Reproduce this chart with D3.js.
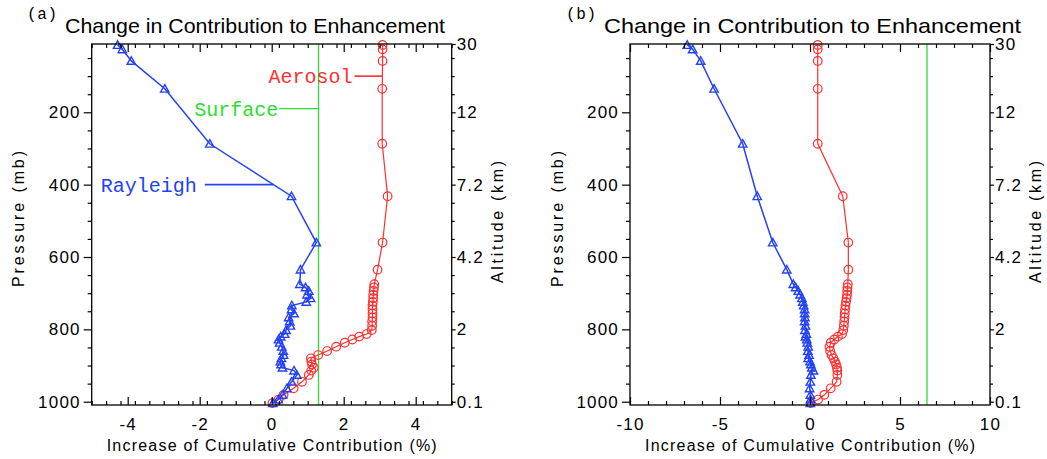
<!DOCTYPE html>
<html><head><meta charset="utf-8">
<script src="https://cdn.jsdelivr.net/npm/d3@7"></script>
<style>
body{margin:0;background:#fff;}
svg{display:block;}
text{font-family:"Liberation Sans",Arial,Helvetica,sans-serif;fill:#000;}
</style>
</head><body>
<svg id="chart" width="1047" height="459"></svg>
<script>
// ---- data ----
const pressureLevels = [14, 26, 58, 135, 287, 432, 560, 635, 675, 684, 694, 704, 714, 724, 734, 745, 756, 767, 778, 790, 802,
  813, 820, 828, 837, 848, 860, 871, 880, 889, 897, 906, 914, 926, 945, 963, 981, 994, 1004];
const rayleighA = [-4.28, -4.15, -3.90, -2.97, -1.72, 0.55, 1.24, 0.80, 0.78, 0.94, 1.03, 0.98, 1.08, 0.96, 0.56, 0.55, 0.62, 0.47, 0.50, 0.52, 0.40,
  0.36, 0.25, 0.19, 0.22, 0.28, 0.32, 0.33, 0.27, 0.24, 0.26, 0.30, 0.62, 0.70, 0.55, 0.42, 0.30, 0.18, 0.03];
const aerosolA = [3.08, 3.08, 3.08, 3.07, 3.07, 3.22, 3.08, 2.94, 2.85, 2.84, 2.83, 2.82, 2.82, 2.81, 2.80, 2.80, 2.80, 2.80, 2.79, 2.79, 2.78,
  2.64, 2.43, 2.24, 2.03, 1.79, 1.54, 1.29, 1.09, 1.10, 1.12, 1.17, 1.10, 1.03, 0.84, 0.61, 0.33, 0.19, 0.02];
const surfaceA = 1.3;
const rayleighB = [-6.82, -6.52, -6.07, -5.33, -3.74, -2.93, -2.07, -1.29, -0.93, -0.80, -0.65, -0.55, -0.45, -0.40, -0.35, -0.30, -0.30, -0.28, -0.30, -0.25, -0.28,
  -0.20, -0.25, -0.18, -0.15, -0.10, -0.12, -0.05, -0.10, 0.00, 0.05, 0.10, 0.19, 0.05, 0.02, -0.02, 0.02, 0.03, 0.02];
const aerosolB = [0.43, 0.43, 0.43, 0.43, 0.43, 1.82, 2.13, 2.13, 2.10, 2.08, 2.07, 2.06, 2.03, 2.00, 1.97, 1.95, 1.93, 1.92, 1.90, 1.88, 1.85,
  1.78, 1.55, 1.35, 1.15, 1.08, 1.12, 1.20, 1.30, 1.39, 1.45, 1.50, 1.52, 1.52, 1.48, 1.15, 0.80, 0.45, 0.04];
const surfaceB = 6.5;

const xTicksA = [-4, -2, 0, 2, 4];
const xTicksB = [-10, -5, 0, 5, 10];
const pressureTicks = [200, 400, 600, 800, 1000];
const altitudeLabels = ["30", "12", "7.2", "4.2", "2", "0.1"];
const altitudePressures = [11.2, 200, 400, 600, 800, 1000];
const seriesNames = ["Aerosol", "Surface", "Rayleigh"];
const title = "Change in Contribution to Enhancement";

// ---- drawing ----
const svg = d3.select("#chart");
const BLUE = "#2442f5", RED = "#ff2f2f", GREEN = "#2fdc2f";
const SANS = '"Liberation Sans",Arial,sans-serif';

function triPath(s) {
  return `M0,${-s}L${s},${s * 0.8}L${-s},${s * 0.8}Z`;
}

function interpAt(p, vals) {
  for (let i = 0; i < pressureLevels.length - 1; i++) {
    const p0 = pressureLevels[i], p1 = pressureLevels[i + 1];
    if (p >= p0 && p <= p1) return vals[i] + (p - p0) / (p1 - p0) * (vals[i + 1] - vals[i]);
  }
  return vals[0];
}

function panel(cfg) {
  const g = svg.append("g");
  const x = d3.scaleLinear().domain(cfg.xDomain).range(cfg.xRange);
  const y = d3.scaleLinear().domain([11.2, 1009.1]).range([44, 405]);
  const [x0, x1] = cfg.xRange, y0 = 44, y1 = 405;

  // surface line
  g.append("line").attr("x1", x(cfg.surface)).attr("x2", x(cfg.surface))
    .attr("y1", y0).attr("y2", y1).attr("stroke", GREEN).attr("stroke-width", 1.3);

  const line = d3.line().x(d => x(d[0])).y(d => y(d[1]));
  const ray = cfg.rayleigh.map((v, i) => [v, pressureLevels[i]]);
  const aer = cfg.aerosol.map((v, i) => [v, pressureLevels[i]]);

  g.append("path").attr("d", line(aer)).attr("fill", "none").attr("stroke", RED).attr("stroke-width", 1.2);
  g.selectAll(".aer").data(aer).join("circle")
    .attr("cx", d => x(d[0])).attr("cy", d => y(d[1])).attr("r", 4.3)
    .attr("fill", "none").attr("stroke", RED).attr("stroke-width", 1.2);

  g.append("path").attr("d", line(ray)).attr("fill", "none").attr("stroke", BLUE).attr("stroke-width", 1.5);
  g.selectAll(".ray").data(ray).join("path")
    .attr("d", triPath(4.2))
    .attr("transform", d => `translate(${x(d[0])},${y(d[1])})`)
    .attr("fill", "none").attr("stroke", BLUE).attr("stroke-width", 1.4);

  // axes
  const ax = g.append("g").attr("class", "axes");
  const styleAxis = sel => {
    sel.select(".domain").remove();
    sel.selectAll("line").attr("stroke", "#000").attr("stroke-width", 1.2);
    sel.selectAll("text").style("font-size", "17px").style("letter-spacing", "1.2px")
      .style("font-family", SANS).attr("fill", "#222");
  };
  const minorX = d3.range(cfg.xDomain[0], cfg.xDomain[1] + 1e-6, cfg.minorStep).filter(v => !cfg.xTicks.some(t => Math.abs(t - v) < 1e-6));
  const minorP = d3.range(50, 1001, 50).filter(v => !pressureTicks.includes(v));
  const fmt = d => String(d);

  ax.append("g").attr("transform", `translate(0,${y1})`)
    .call(d3.axisBottom(x).tickValues(minorX).tickSize(-4).tickFormat("")).call(styleAxis);
  ax.append("g").attr("transform", `translate(0,${y1})`)
    .call(d3.axisBottom(x).tickValues(cfg.xTicks).tickSize(-8).tickPadding(13).tickFormat(fmt)).call(styleAxis);
  ax.append("g").attr("transform", `translate(0,${y0})`)
    .call(d3.axisTop(x).tickValues(minorX).tickSize(-4).tickFormat("")).call(styleAxis);
  ax.append("g").attr("transform", `translate(0,${y0})`)
    .call(d3.axisTop(x).tickValues(cfg.xTicks).tickSize(-8).tickFormat("")).call(styleAxis);

  ax.append("g").attr("transform", `translate(${x0},0)`)
    .call(d3.axisLeft(y).tickValues(minorP).tickSize(4).tickFormat("")).call(styleAxis);
  ax.append("g").attr("transform", `translate(${x0},0)`)
    .call(d3.axisLeft(y).tickValues(pressureTicks).tickSize(8).tickPadding(3).tickFormat(fmt)).call(styleAxis);
  ax.append("g").attr("transform", `translate(${x1},0)`)
    .call(d3.axisRight(y).tickValues(minorP).tickSize(3).tickFormat("")).call(styleAxis);
  ax.append("g").attr("transform", `translate(${x1},0)`)
    .call(d3.axisRight(y).tickValues(altitudePressures).tickSize(4).tickPadding(1)
      .tickFormat((d, i) => altitudeLabels[i])).call(styleAxis);

  g.append("rect").attr("x", x0).attr("y", y0).attr("width", x1 - x0).attr("height", y1 - y0)
    .attr("fill", "none").attr("stroke", "#000").attr("stroke-width", 1.3);

  // axis titles
  const cx = (x0 + x1) / 2;
  g.append("text").attr("x", cx).attr("y", 451).attr("text-anchor", "middle").attr("fill", "#222")
    .style("font-size", "16px").attr("textLength", 330).attr("lengthAdjust", "spacing")
    .text("Increase of Cumulative Contribution (%)");
  g.append("text").attr("transform", `translate(${cfg.pLabelX},219) rotate(-90)`).attr("text-anchor", "middle").attr("fill", "#222")
    .style("font-size", "16px").attr("textLength", 136).attr("lengthAdjust", "spacing").text("Pressure (mb)");
  g.append("text").attr("transform", `translate(${x1 + 51},222) rotate(-90)`).attr("text-anchor", "middle").attr("fill", "#222")
    .style("font-size", "16px").attr("textLength", 122).attr("lengthAdjust", "spacing").text("Altitude (km)");

  // titles
  g.append("text").attr("x", cfg.tagX).attr("y", 19).style("font-family", '"Liberation Mono",monospace').attr("fill", "#222")
    .style("font-size", "16px").attr("textLength", 30).attr("lengthAdjust", "spacing").text(cfg.tag);
  g.append("text").attr("x", cfg.titleX).attr("y", 33).style("font-size", "21px")
    .attr("textLength", cfg.titleW).attr("lengthAdjust", "spacingAndGlyphs").text(title);

  return {g, x, y};
}

const A = panel({xDomain: [-5, 5], xRange: [91.7, 451.7], xTicks: xTicksA, minorStep: 0.4,
  rayleigh: rayleighA, aerosol: aerosolA, surface: surfaceA, tag: "(a)", tagX: 27, titleX: 65, titleW: 380, pLabelX: 24});
panel({xDomain: [-10, 10], xRange: [630, 990], xTicks: xTicksB, minorStep: 1,
  rayleigh: rayleighB, aerosol: aerosolB, surface: surfaceB, tag: "(b)", tagX: 566, titleX: 604, titleW: 417, pLabelX: 563});

// legend labels (panel a)
const legend = [
  {name: seriesNames[0], color: RED, p: 100, from: 2.30, to: p => interpAt(p, aerosolA), gap: 2},
  {name: seriesNames[1], color: GREEN, p: 190, from: 0.21, to: p => surfaceA, gap: 1},
  {name: seriesNames[2], color: BLUE, p: 400, from: -1.86, to: p => interpAt(p, rayleighA), gap: 8}
];
legend.forEach(L => {
  const yy = A.y(L.p), xs = A.x(L.from), xe = A.x(L.to(L.p));
  A.g.append("line").attr("x1", xs).attr("x2", xe).attr("y1", yy).attr("y2", yy)
    .attr("stroke", L.color).attr("stroke-width", L.color === GREEN ? 1.3 : 1.6);
  A.g.append("text").attr("x", xs - L.gap).attr("y", yy).attr("dy", "0.35em").attr("text-anchor", "end")
    .style("font-family", '"Liberation Mono","Courier New",monospace').style("font-size", "20px")
    .attr("fill", L.color).style("fill", L.color).text(L.name);
});
</script>
</body></html>
